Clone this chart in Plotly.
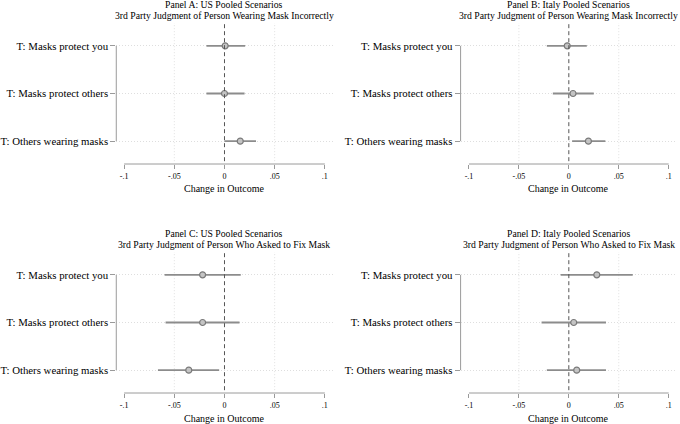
import plotly.graph_objects as go

W, H = 680, 424
FONT = "Liberation Serif"

categories = ["T: Masks protect you", "T: Masks protect others", "T: Others wearing masks"]

panel_titles = [
    ("Panel A: US Pooled Scenarios", "3rd Party Judgment of Person Wearing Mask Incorrectly"),
    ("Panel B: Italy Pooled Scenarios", "3rd Party Judgment of Person Wearing Mask Incorrectly"),
    ("Panel C: US Pooled Scenarios", "3rd Party Judgment of Person Who Asked to Fix Mask"),
    ("Panel D: Italy Pooled Scenarios", "3rd Party Judgment of Person Who Asked to Fix Mask"),
]

# point estimates and 95% CI bounds
est_A = [0.0007, 0.0, 0.0157]
lo_A = [-0.018, -0.018, 0.0]
hi_A = [0.0206, 0.020, 0.0314]

est_B = [-0.0016, 0.0042, 0.0196]
lo_B = [-0.022, -0.016, 0.0033]
hi_B = [0.018, 0.025, 0.0366]

est_C = [-0.0218, -0.0218, -0.0356]
lo_C = [-0.0597, -0.0587, -0.0663]
hi_C = [0.0162, 0.015, -0.0053]

est_D = [0.028, 0.0049, 0.0079]
lo_D = [-0.0082, -0.0273, -0.022]
hi_D = [0.064, 0.0372, 0.0372]

x_tickvals = [-0.1, -0.05, 0, 0.05, 0.1]
x_ticktext = ["-.1", "-.05", "0", ".05", ".1"]
x_gridvals = [-0.05, 0.05]
x_label = "Change in Outcome"

panels = [(est_A, lo_A, hi_A), (est_B, lo_B, hi_B), (est_C, lo_C, hi_C), (est_D, lo_D, hi_D)]

# layout geometry (pixels)
col_px = [(107, 328), (457, 677)]
col_zero = [217, 567]
col_scale = [1020, 1015]
row_px = [(23, 164), (252, 393)]
title_y = [(4.7, 15.5), (233.3, 244)]
xlabel_y = [189, 418]

fig = go.Figure()
layout = dict(
    width=W, height=H, margin=dict(l=0, r=0, t=0, b=0),
    paper_bgcolor="white", plot_bgcolor="white", showlegend=False,
    font=dict(family=FONT, color="black"),
)
shapes = []
annotations = []

AXC = "#9a9a9a"
for i, (est, lo, hi) in enumerate(panels):
    r, c = divmod(i, 2)
    n = i + 1
    xa = "xaxis" if n == 1 else f"xaxis{n}"
    ya = "yaxis" if n == 1 else f"yaxis{n}"
    xr = "x" if n == 1 else f"x{n}"
    yr = "y" if n == 1 else f"y{n}"
    x0p, x1p = col_px[c]
    y0p, y1p = row_px[r]
    rng = [(x0p - col_zero[c]) / col_scale[c], (x1p - col_zero[c]) / col_scale[c]]

    fig.add_trace(go.Scatter(
        x=est, y=categories, mode="markers", xaxis=xr, yaxis=yr,
        error_x=dict(type="data", symmetric=False,
                     array=[h - e for h, e in zip(hi, est)],
                     arrayminus=[e - l for e, l in zip(est, lo)],
                     color="#8c8c8c", thickness=1.8, width=0),
        marker=dict(symbol="circle", size=6, color="#c4c4c4",
                    line=dict(color="#7a7a7a", width=1.2)),
        hoverinfo="skip",
    ))

    layout[xa] = dict(
        domain=[x0p / W, x1p / W], range=rng, anchor=yr,
        tickvals=x_tickvals, ticktext=x_ticktext, ticks="outside", ticklen=4,
        tickcolor=AXC, tickwidth=1, showgrid=False, zeroline=False, showline=False,
        tickfont=dict(family=FONT, size=8, color="black"),
    )
    layout[ya] = dict(
        domain=[1 - y1p / H, 1 - y0p / H], anchor=xr,
        type="category", categoryarray=categories, range=[2.48, -0.48],
        ticks="outside", ticklen=5, tickcolor=AXC, tickwidth=1,
        showgrid=True, gridcolor="#dedede", griddash="1px,2px", gridwidth=1,
        zeroline=False, showline=False,
        tickfont=dict(family=FONT, size=10.8, color="black"),
    )

    # bottom axis line spanning the tick range
    shapes.append(dict(type="line", xref=xr, yref=f"{yr} domain",
                       x0=x_tickvals[0], x1=x_tickvals[-1], y0=0, y1=0,
                       line=dict(color=AXC, width=1)))
    # left axis line spanning the categories
    shapes.append(dict(type="line", xref=f"{xr} domain", yref=yr,
                       x0=0, x1=0, y0=categories[0], y1=categories[-1],
                       line=dict(color=AXC, width=1)))
    # vertical dotted gridlines
    for gv in x_gridvals:
        shapes.append(dict(type="line", xref=xr, yref=f"{yr} domain",
                           x0=gv, x1=gv, y0=0.02, y1=1,
                           line=dict(color="#e0e0e0", width=1, dash="1px,2px"), layer="below"))
    # zero reference line
    shapes.append(dict(type="line", xref=xr, yref=f"{yr} domain",
                       x0=0, x1=0, y0=0.02, y1=1,
                       line=dict(color="#555555", width=1, dash="4px,3px")))

    # titles
    cx = col_zero[c] / W
    for line_txt, ypx in zip(panel_titles[i], title_y[r]):
        annotations.append(dict(text=line_txt, xref="paper", yref="paper",
                                x=cx, y=1 - ypx / H, xanchor="center", yanchor="middle",
                                showarrow=False, font=dict(family=FONT, size=9.7, color="black")))
    annotations.append(dict(text=x_label, xref="paper", yref="paper",
                            x=cx, y=1 - xlabel_y[r] / H, xanchor="center", yanchor="middle",
                            showarrow=False, font=dict(family=FONT, size=10, color="black")))

layout["shapes"] = shapes
layout["annotations"] = annotations
fig.update_layout(**layout)
fig.write_html("out.html", config={"displayModeBar": False},
               post_script="document.body.style.margin='0';")
